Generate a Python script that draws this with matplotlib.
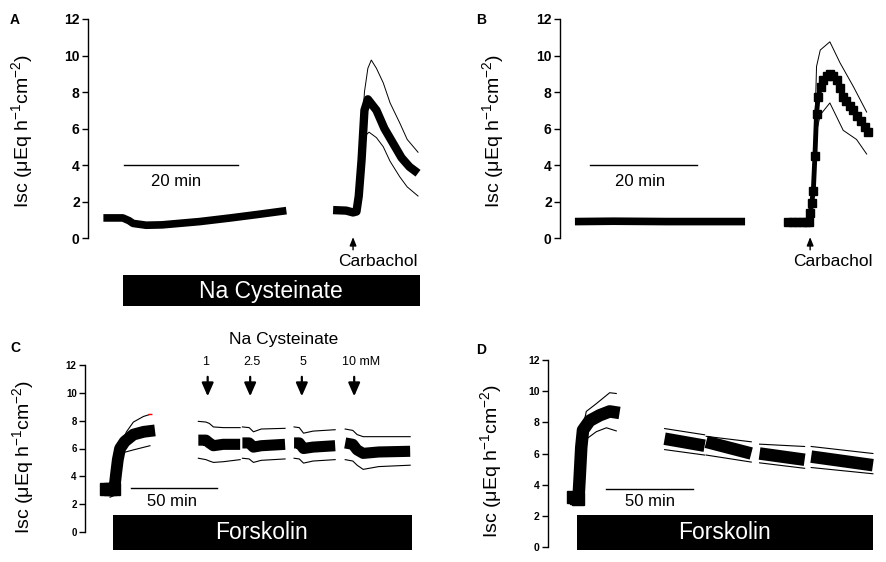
import matplotlib
matplotlib.use('Agg')
import matplotlib.pyplot as plt

plt.rcParams['font.family'] = ['Liberation Sans', 'DejaVu Sans']
plt.rcParams['mathtext.fontset'] = 'custom'
plt.rcParams['mathtext.rm'] = 'Liberation Sans'
plt.rcParams['mathtext.it'] = 'Liberation Sans:italic'
plt.rcParams['mathtext.bf'] = 'Liberation Sans:bold'

# ---- Panel A: Na cysteinate then carbachol (time in min, Isc) ----
a1_t = [2.7, 6.1, 7.2, 7.9, 10.2, 13.0, 19.6, 25.0, 30.0, 34.8]
a1_mean = [1.1, 1.1, 0.95, 0.8, 0.7, 0.72, 0.9, 1.1, 1.3, 1.5]
a2_t = [43.0, 45.3, 46.5, 47.1, 47.5, 48.0, 48.5, 49.1, 50.6, 52.0, 53.5, 55.0, 56.4, 57.9]
a2_mean = [1.53, 1.5, 1.4, 1.45, 2.3, 4.3, 7.0, 7.6, 7.0, 6.0, 5.2, 4.4, 3.9, 3.55]
a2_up_t = [47.1, 47.5, 48.0, 48.5, 49.1, 49.7, 50.6, 51.8, 53.0, 54.7, 56.0, 57.9]
a2_up = [1.7, 3.0, 5.5, 8.0, 9.3, 9.75, 9.3, 8.5, 7.4, 6.3, 5.4, 4.7]
a2_lo_t = [47.1, 47.5, 48.3, 49.3, 50.6, 51.8, 53.0, 54.7, 56.0, 57.9]
a2_lo = [1.3, 2.5, 5.5, 5.8, 5.5, 5.0, 4.2, 3.35, 2.8, 2.3]

# ---- Panel B: carbachol only ----
b1_t = [2.8, 10.0, 20.0, 34.7]
b1_mean = [0.9, 0.92, 0.9, 0.9]
b2_t = [42.8, 43.6, 44.5, 45.4, 46.2, 46.6, 46.9, 47.2, 47.5, 47.8, 48.1, 48.4, 48.9, 49.4,
        50.0, 50.6, 51.2, 51.9, 52.5, 53.1, 53.7, 54.3, 55.0, 55.7, 56.4, 57.1, 57.8]
b2_mean = [0.88, 0.88, 0.88, 0.88, 0.88, 0.9, 1.35, 1.9, 2.6, 4.5, 6.8, 7.75, 8.3, 8.65,
           8.85, 9.0, 8.9, 8.65, 8.2, 7.75, 7.5, 7.25, 7.0, 6.7, 6.4, 6.1, 5.8]
b2_up_t = [46.6, 47.5, 48.1, 48.8, 50.6, 52.5, 55.0, 57.5]
b2_up = [1.0, 3.0, 9.4, 10.3, 10.75, 9.6, 8.3, 6.9]
b2_lo_t = [46.6, 47.5, 47.8, 48.8, 50.6, 53.1, 55.6, 57.5]
b2_lo = [0.8, 2.2, 5.4, 6.75, 7.4, 5.9, 5.4, 4.6]

# ---- Panel C: forskolin then cumulative Na cysteinate ----
c0_t = [12.2, 14.5, 17.0, 18.0, 19.0, 20.3, 23.0, 28.0, 34.0, 40.5]
c0_mean = [3.1, 3.1, 3.1, 4.2, 5.2, 6.0, 6.5, 7.0, 7.2, 7.3]
c0_up_t = [17.4, 19.3, 21.2, 24.0, 28.0, 33.8, 37.6]
c0_up = [3.7, 5.5, 6.4, 7.2, 7.9, 8.3, 8.45]
c0_lo_t = [14.5, 17.4, 19.3, 22.0, 28.0, 37.6]
c0_lo = [2.5, 2.65, 5.4, 5.7, 5.9, 6.2]
c_seg_t = [[65.6, 70.0, 72.0, 74.3, 80.0, 89.8],
           [91.1, 95.0, 97.5, 102.0, 115.8],
           [121.0, 124.0, 126.5, 132.0, 144.8],
           [150.6, 155.0, 157.5, 161.0, 170.0, 188.2]]
c_seg_mean = [[6.6, 6.6, 6.4, 6.2, 6.3, 6.3],
              [6.4, 6.4, 6.1, 6.2, 6.3],
              [6.4, 6.4, 6.0, 6.1, 6.2],
              [6.4, 6.3, 5.9, 5.65, 5.75, 5.8]]
c_seg_up = [[7.95, 7.9, 7.8, 7.55, 7.5, 7.5],
            [7.55, 7.5, 7.2, 7.4, 7.45],
            [7.55, 7.5, 7.1, 7.25, 7.35],
            [7.4, 7.3, 7.0, 6.85, 6.85, 6.85]]
c_seg_lo = [[5.3, 5.2, 5.1, 5.0, 5.05, 5.2],
            [5.3, 5.25, 5.0, 5.15, 5.25],
            [5.3, 5.25, 4.95, 5.1, 5.2],
            [5.2, 5.1, 4.8, 4.5, 4.7, 4.8]]
c_arrow_t = [71.0, 95.6, 125.5, 155.8]
c_arrow_lbl = ['1', '2.5', '5', '10 mM']
c_lbl_t = [69.9, 96.5, 126.0, 159.8]

# ---- Panel D: forskolin time control ----
d0_t = [14.4, 16.0, 17.6, 18.3, 19.2, 20.2, 24.0, 29.8, 35.6, 41.3]
d0_mean = [3.2, 3.15, 3.1, 4.5, 6.4, 7.5, 8.1, 8.45, 8.7, 8.6]
d0_up_t = [17.3, 20.2, 22.1, 27.9, 35.6, 39.4]
d0_up = [3.5, 7.7, 8.7, 9.2, 9.9, 9.85]
d0_lo_t = [16.3, 19.2, 21.2, 27.9, 33.7, 39.4]
d0_lo = [2.8, 5.8, 6.85, 7.4, 7.65, 7.45]
d_seg_t = [[67.3, 90.4], [91.3, 117.3], [122.1, 148.1], [151.9, 187.5]]
d_seg_mean = [[6.95, 6.5], [6.75, 6.0], [6.0, 5.6], [5.8, 5.25]]
d_seg_up = [[7.6, 7.2], [7.1, 6.75], [6.6, 6.45], [6.45, 6.0]]
d_seg_lo = [[6.25, 5.9], [5.9, 5.45], [5.4, 5.05], [5.1, 4.7]]

yticks = [0, 2, 4, 6, 8, 10, 12]
ylabel = 'Isc (μEq h$^{-1}$cm$^{-2}$)'

W, H = 886, 562
fig = plt.figure(figsize=(W / 100, H / 100), dpi=100)


def make_axes(left, right, top, bottom, xmax, tick_size):
    ax = fig.add_axes([left / W, 1 - bottom / H, (right - left) / W, (bottom - top) / H])
    ax.set_xlim(0, xmax)
    ax.set_ylim(0, 12)
    for s in ['top', 'right', 'bottom']:
        ax.spines[s].set_visible(False)
    ax.spines['left'].set_linewidth(1.0)
    ax.set_xticks([])
    ax.set_yticks(yticks)
    ax.tick_params(axis='y', length=4, width=1, labelsize=tick_size, pad=2)
    for lab in ax.get_yticklabels():
        lab.set_fontweight('bold')
    ax.patch.set_alpha(0)
    return ax


def px(x, y):
    return x / W, 1 - y / H


def scale_bar(ax, x0, x1, y, ty, tx, text):
    ax.plot([x0, x1], [y, y], color='k', lw=1.0, clip_on=False)
    ax.text(tx, ty, text, ha='center', va='center', fontsize=12, clip_on=False)


def block(ax, x0, x1, y0, y1, text, tx, ty):
    ax.fill_between([x0, x1], [y0, y0], [y1, y1], color='k', lw=0, clip_on=False)
    ax.text(tx, ty, text, color='white', ha='center', va='center', fontsize=16.5, clip_on=False)


# --- A ---
axA = make_axes(88, 430, 19, 238, 60.0, 10)
axA.plot(a1_t, a1_mean, color='k', lw=5.5, solid_capstyle='butt')
axA.plot(a2_up_t, a2_up, color='k', lw=0.7)
axA.plot(a2_lo_t, a2_lo, color='k', lw=0.7)
axA.plot(a2_t, a2_mean, color='k', lw=6, solid_capstyle='butt')
scale_bar(axA, 6.4, 26.4, 4.0, 3.1, 15.5, '20 min')
axA.annotate('', xy=(46.5, 0.2), xytext=(46.5, -0.8), annotation_clip=False,
             arrowprops=dict(arrowstyle='-|>,head_width=0.2,head_length=0.5', color='k', lw=1))
axA.text(50.8, -1.3, 'Carbachol', ha='center', va='center', fontsize=12.5, clip_on=False)
block(axA, 6.1, 58.2, -2.05, -3.75, 'Na Cysteinate', 32.15, -2.95)

# --- B ---
axB = make_axes(560, 880, 19, 238, 60.0, 10)
axB.plot(b1_t, b1_mean, color='k', lw=5.5, solid_capstyle='butt')
axB.plot(b2_up_t, b2_up, color='k', lw=0.7)
axB.plot(b2_lo_t, b2_lo, color='k', lw=0.7)
axB.plot(b2_t, b2_mean, color='k', lw=3.5, marker='s', ms=5.5)
scale_bar(axB, 5.6, 25.6, 4.0, 3.1, 15.0, '20 min')
axB.annotate('', xy=(46.9, 0.2), xytext=(46.9, -0.8), annotation_clip=False,
             arrowprops=dict(arrowstyle='-|>,head_width=0.2,head_length=0.5', color='k', lw=1))
axB.text(51.1, -1.3, 'Carbachol', ha='center', va='center', fontsize=12.5, clip_on=False)

# --- C ---
axC = make_axes(85, 415, 365, 532, 191.0, 7)
axC.plot(c0_up_t, c0_up, color='k', lw=0.8)
axC.plot(c0_lo_t, c0_lo, color='k', lw=0.8)
axC.plot(c0_t, c0_mean, color='k', lw=8.5, solid_capstyle='butt', solid_joinstyle='round',
         marker='s', ms=8, markevery=[0, 1, 2])
axC.plot([c0_up_t[-1]], [c0_up[-1]], color='red', marker='_', ms=3, mew=1)
for t, m, u, l in zip(c_seg_t, c_seg_mean, c_seg_up, c_seg_lo):
    axC.plot(t, u, color='k', lw=0.8)
    axC.plot(t, l, color='k', lw=0.8)
    axC.plot(t, m, color='k', lw=8, solid_capstyle='butt')
for t, lt, lab in zip(c_arrow_t, c_lbl_t, c_arrow_lbl):
    axC.annotate('', xy=(t, 9.55), xytext=(t, 11.35), annotation_clip=False,
                 arrowprops=dict(arrowstyle='-|>,head_width=0.35,head_length=0.8', color='k', lw=1.6))
    axC.text(lt, 12.2, lab, ha='center', va='center', fontsize=9, clip_on=False)
axC.text(114.9, 13.8, 'Na Cysteinate', ha='center', va='center', fontsize=12.5, clip_on=False)
scale_bar(axC, 26.6, 76.6, 3.14, 2.18, 50.2, '50 min')
block(axC, 16.0, 189.2, 1.22, -1.29, 'Forskolin', 102.3, -0.05)

# --- D ---
axD = make_axes(548, 880, 360, 547, 191.6, 7.5)
axD.plot(d0_up_t, d0_up, color='k', lw=0.8)
axD.plot(d0_lo_t, d0_lo, color='k', lw=0.8)
axD.plot(d0_t, d0_mean, color='k', lw=9, solid_capstyle='butt', solid_joinstyle='round',
         marker='s', ms=9, markevery=[0, 1, 2])
for t, m, u, l in zip(d_seg_t, d_seg_mean, d_seg_up, d_seg_lo):
    axD.plot(t, u, color='k', lw=0.8)
    axD.plot(t, l, color='k', lw=0.8)
    axD.plot(t, m, color='k', lw=9, solid_capstyle='butt')
scale_bar(axD, 33.7, 83.7, 3.7, 2.9, 58.7, '50 min')
block(axD, 16.7, 187.5, 2.04, -0.21, 'Forskolin', 101.9, 0.9)

# y labels and panel letters
for (x, y) in [(22, 131), (493, 131), (23, 457), (491, 461)]:
    fig.text(*px(x, y), ylabel, rotation=90, ha='center', va='center', fontsize=14)
for (x, y, s) in [(15, 20, 'A'), (481, 20, 'B'), (15, 348, 'C'), (481, 350, 'D')]:
    fig.text(*px(x, y), s, ha='center', va='center', fontsize=10, fontweight='bold')

fig.savefig('out.png', dpi=100)
